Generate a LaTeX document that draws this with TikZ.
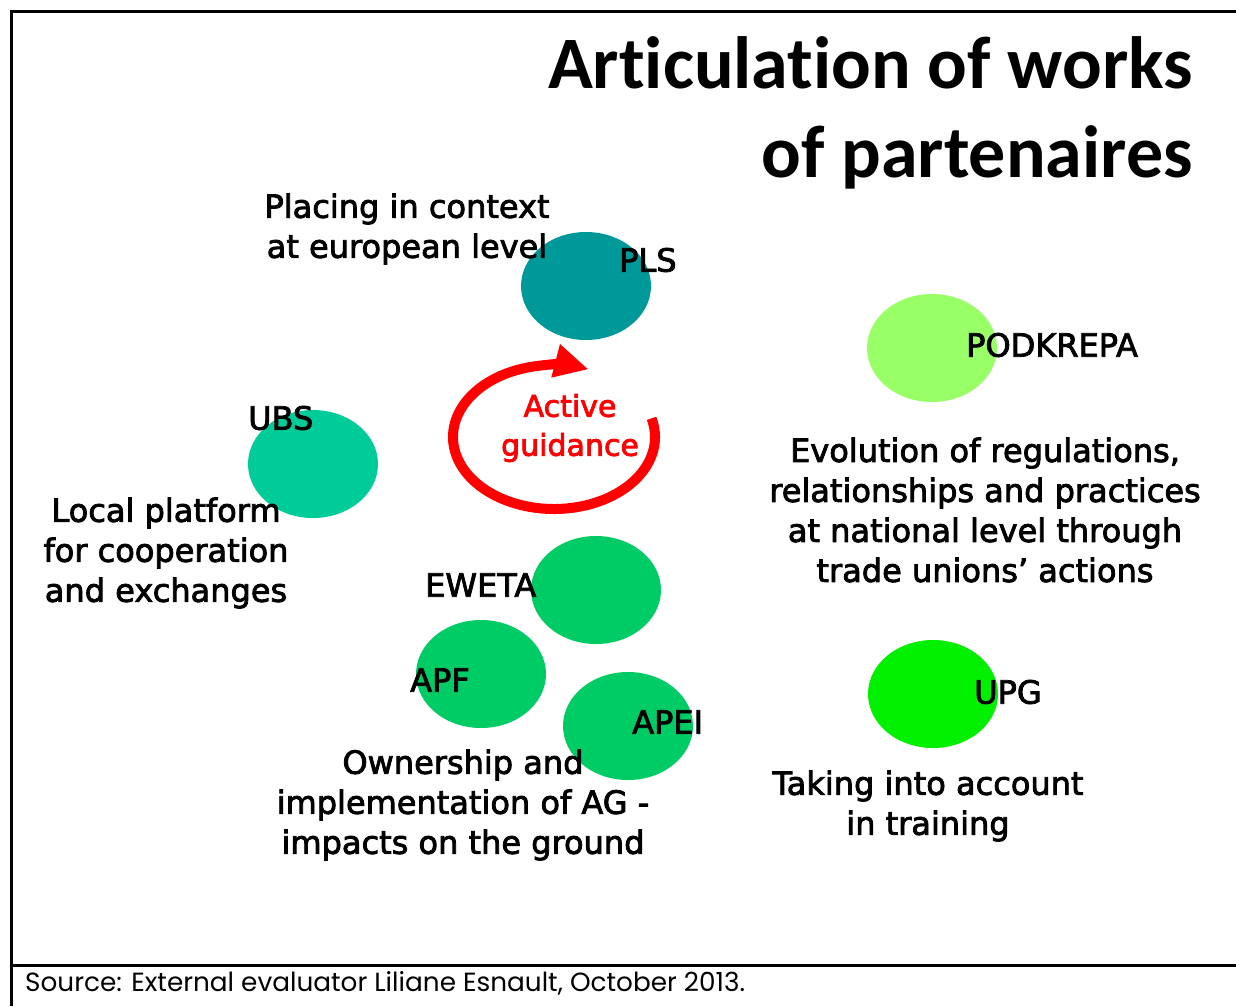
\documentclass[tikz,border=0pt]{standalone}
\usepackage{fontspec}
\setmainfont{DejaVu Sans}[BoldFont={DejaVu Sans},BoldFeatures={FakeBold=2.5}]
\newfontfamily\titlefont{Carlito}[Ligatures=NoCommon]
\newfontfamily\srcfont{Poppins}
\usetikzlibrary{arrows.meta,shapes.geometric}
\definecolor{plsc}{HTML}{009999}
\definecolor{ubsc}{HTML}{00CC99}
\definecolor{grc}{HTML}{00CC66}
\definecolor{podc}{HTML}{99FF66}
\definecolor{upgc}{HTML}{00F000}
\begin{document}
\begin{tikzpicture}[x=1pt,y=1pt,
  blob/.style={ellipse,draw=none,minimum width=130pt,minimum height=108pt,inner sep=0pt},
  lbl/.style={font=\bfseries\fontsize{32}{32}\selectfont,inner sep=0pt,anchor=west},
  desc/.style={font=\bfseries\fontsize{32}{40}\selectfont,align=center,inner sep=0pt},
  ttl/.style={font=\titlefont\bfseries\fontsize{74}{88}\selectfont,anchor=base east,inner sep=0pt},
  frameline/.style={line width=3pt,black}]
\useasboundingbox (0,0) rectangle (1236,-1006);
% frame
\draw[frameline] (1236,-12) -- (11,-12) -- (11,-1006);
\draw[frameline] (11,-965) -- (1236,-965);
% title
\node[ttl] (title1) at (1193,-89) {Articulation of works};
\node[ttl] (title2) at (1193,-177) {of partenaires};
% ellipses
\node[blob,fill=plsc] (pls) at (586,-286) {};
\node[blob,fill=ubsc] (ubs) at (313,-464) {};
\node[blob,fill=grc] (eweta) at (596,-590) {};
\node[blob,fill=grc] (apf) at (481,-674) {};
\node[blob,fill=grc] (apei) at (628,-726) {};
\node[blob,fill=podc] (podkrepa) at (932,-348) {};
\node[blob,fill=upgc] (upg) at (933,-694) {};
% labels
\node[lbl] (plsl) at (619,-260) {PLS};
\node[lbl] (podl) at (966,-345) {PODKREPA};
\node[lbl] (ubsl) at (248,-418) {UBS};
\node[lbl] (ewetal) at (425,-585) {EWETA};
\node[lbl] (apfl) at (410,-680) {APF};
\node[lbl] (apeil) at (632,-722) {APEI};
\node[lbl] (upgl) at (974,-692) {UPG};
% descriptions
\node[desc] (d1) at (407,-229) {Placing in context\\at european level};
\node[desc] (d2) at (166,-553) {Local platform\\for cooperation\\and exchanges};
\node[desc] (d3) at (985,-510) {Evolution of regulations,\\relationships and practices\\at national level through\\trade unions' actions};
\node[desc] (d4) at (463,-805) {Ownership and\\implementation of AG -\\impacts on the ground};
\node[desc] (d5) at (928,-806) {Taking into account\\in training};
% active guidance
\draw[red,line width=10pt,-{Triangle[length=34pt,width=32pt]}]
  (554,-437) ++(15:101 and 72) arc[start angle=15,end angle=-290,x radius=101,y radius=72];
\node[desc,text=red,font=\bfseries\fontsize{30}{39}\selectfont] (ag) at (570,-428) {Active\\guidance};
% source
\node[font=\srcfont\fontsize{26.3}{26.3}\selectfont,anchor=west,inner sep=0pt] (src) at (25,-983) {Source: External evaluator Liliane Esnault, October 2013.};
\end{tikzpicture}
\end{document}
